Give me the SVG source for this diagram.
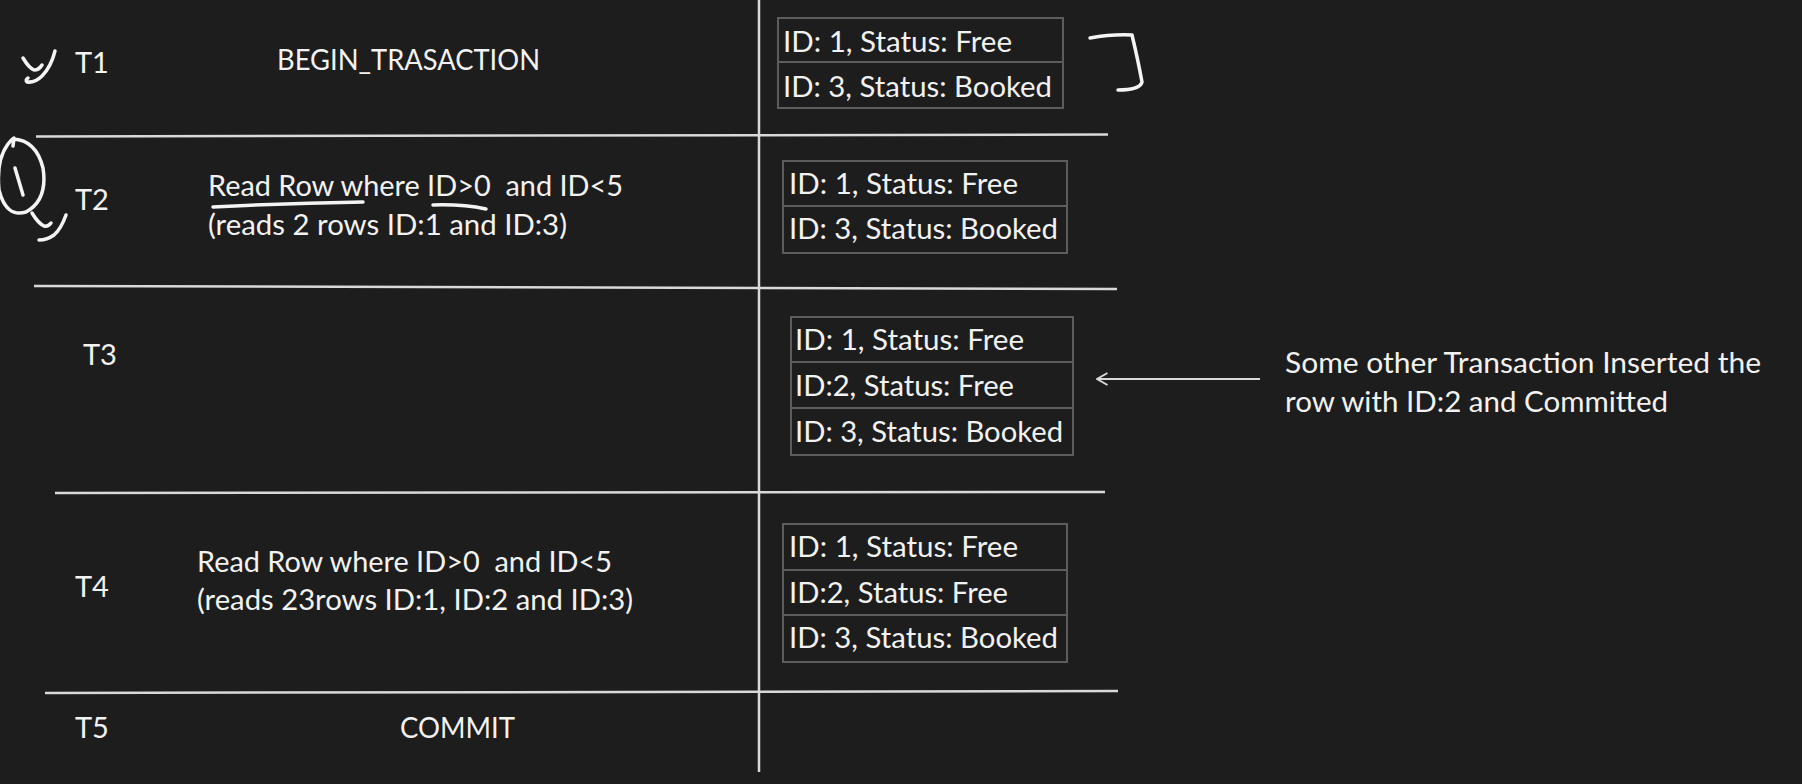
<svg xmlns="http://www.w3.org/2000/svg" width="1802" height="784" viewBox="0 0 1802 784">
<style>
text{font-family:Lato,"Open Sans","Liberation Sans",sans-serif;font-size:29px;fill:#f2f2f2}
.rule{stroke:#d9d9d9;stroke-width:2.5;fill:none}
.cell{fill:#1d1d1d;stroke:#5c5c5c;stroke-width:2}
.ink{fill:none;stroke:#f4f4f4;stroke-width:3.5;stroke-linecap:round;stroke-linejoin:round}
</style>
<defs>
<marker id="open" viewBox="0 0 14 14" refX="12.5" refY="7" markerWidth="14" markerHeight="14" markerUnits="userSpaceOnUse" orient="auto">
<path d="M2,1 L12.5,7 L2,13" fill="none" stroke="#d9d9d9" stroke-width="2"/>
</marker>
</defs>
<rect width="1802" height="784" fill="#1d1d1d"/>

<g id="grid">
<line class="rule" x1="759" y1="0" x2="759" y2="772"/>
<line class="rule" x1="36" y1="136.5" x2="1108" y2="134.5"/>
<line class="rule" x1="34" y1="286" x2="1117" y2="289"/>
<line class="rule" x1="55" y1="493" x2="1105" y2="492"/>
<line class="rule" x1="45" y1="693" x2="1118" y2="691"/>
</g>

<g id="row-t1">
<text x="75" y="73">T1</text>
<text x="277" y="70" textLength="263" lengthAdjust="spacingAndGlyphs">BEGIN_TRASACTION</text>
</g>
<g id="row-t2">
<text x="75" y="210">T2</text>
<text x="208" y="196" textLength="415" lengthAdjust="spacingAndGlyphs" xml:space="preserve">Read Row where ID&gt;0  and ID&lt;5</text>
<text x="208" y="235" textLength="359" lengthAdjust="spacingAndGlyphs">(reads 2 rows ID:1 and ID:3)</text>
</g>
<g id="row-t3">
<text x="83" y="365">T3</text>
</g>
<g id="row-t4">
<text x="75" y="597">T4</text>
<text x="197" y="572" textLength="415" lengthAdjust="spacingAndGlyphs" xml:space="preserve">Read Row where ID&gt;0  and ID&lt;5</text>
<text x="197" y="610" textLength="436" lengthAdjust="spacingAndGlyphs">(reads 23rows ID:1, ID:2 and ID:3)</text>
</g>
<g id="row-t5">
<text x="75" y="738">T5</text>
<text x="400" y="738" textLength="115" lengthAdjust="spacingAndGlyphs">COMMIT</text>
</g>

<g id="table-1">
<rect class="cell" x="778" y="18" width="285" height="44"/>
<rect class="cell" x="778" y="62" width="285" height="46"/>
<text x="783" y="52" textLength="229" lengthAdjust="spacingAndGlyphs">ID: 1, Status: Free</text>
<text x="783" y="97" textLength="269" lengthAdjust="spacingAndGlyphs">ID: 3, Status: Booked</text>
</g>
<g id="table-2">
<rect class="cell" x="783" y="161" width="284" height="45"/>
<rect class="cell" x="783" y="206" width="284" height="47"/>
<text x="789" y="194" textLength="229" lengthAdjust="spacingAndGlyphs">ID: 1, Status: Free</text>
<text x="789" y="239" textLength="269" lengthAdjust="spacingAndGlyphs">ID: 3, Status: Booked</text>
</g>
<g id="table-3">
<rect class="cell" x="791" y="317" width="282" height="45"/>
<rect class="cell" x="791" y="362" width="282" height="46"/>
<rect class="cell" x="791" y="408" width="282" height="47"/>
<text x="795" y="350" textLength="229" lengthAdjust="spacingAndGlyphs">ID: 1, Status: Free</text>
<text x="795" y="396" textLength="219" lengthAdjust="spacingAndGlyphs">ID:2, Status: Free</text>
<text x="795" y="442" textLength="268" lengthAdjust="spacingAndGlyphs">ID: 3, Status: Booked</text>
</g>
<g id="table-4">
<rect class="cell" x="783" y="524" width="284" height="46"/>
<rect class="cell" x="783" y="570" width="284" height="45"/>
<rect class="cell" x="783" y="615" width="284" height="47"/>
<text x="789" y="557" textLength="229" lengthAdjust="spacingAndGlyphs">ID: 1, Status: Free</text>
<text x="789" y="603" textLength="219" lengthAdjust="spacingAndGlyphs">ID:2, Status: Free</text>
<text x="789" y="648" textLength="269" lengthAdjust="spacingAndGlyphs">ID: 3, Status: Booked</text>
</g>

<g id="note">
<text x="1285" y="373" textLength="476" lengthAdjust="spacingAndGlyphs">Some other Transaction Inserted the</text>
<text x="1285" y="412" textLength="383" lengthAdjust="spacingAndGlyphs">row with ID:2 and Committed</text>
</g>

<g id="connectors">
<line x1="1260" y1="379" x2="1097" y2="379" stroke="#d9d9d9" stroke-width="2" marker-end="url(#open)"/>
</g>

<g id="annotations">
<path class="ink" d="M23,58 Q29,68 34,70 Q39,70 42,65"/>
<path class="ink" d="M55,51 Q51,67 42,76 Q35,83 27,82 Q25,80 28,78"/>
<path class="ink" d="M13,139 Q36,140 43,168 Q48,200 26,212 Q6,218 -1,190 Q-4,160 8,144 Q11,140 14,138 L13,146"/>
<path class="ink" d="M15,168 L23,195"/>
<path class="ink" d="M32,213 Q38,223 44,226 Q48,227 51,223"/>
<path class="ink" d="M66,215 Q61,229 54,235 Q47,240 39,240"/>
<path class="ink" d="M213,207 Q290,203 363,202"/>
<path class="ink" d="M433,205 Q462,204 486,209"/>
<path class="ink" d="M1090,38 Q1112,34 1132,35 Q1138,60 1142,82 Q1140,90 1118,90"/>
</g>
</svg>
